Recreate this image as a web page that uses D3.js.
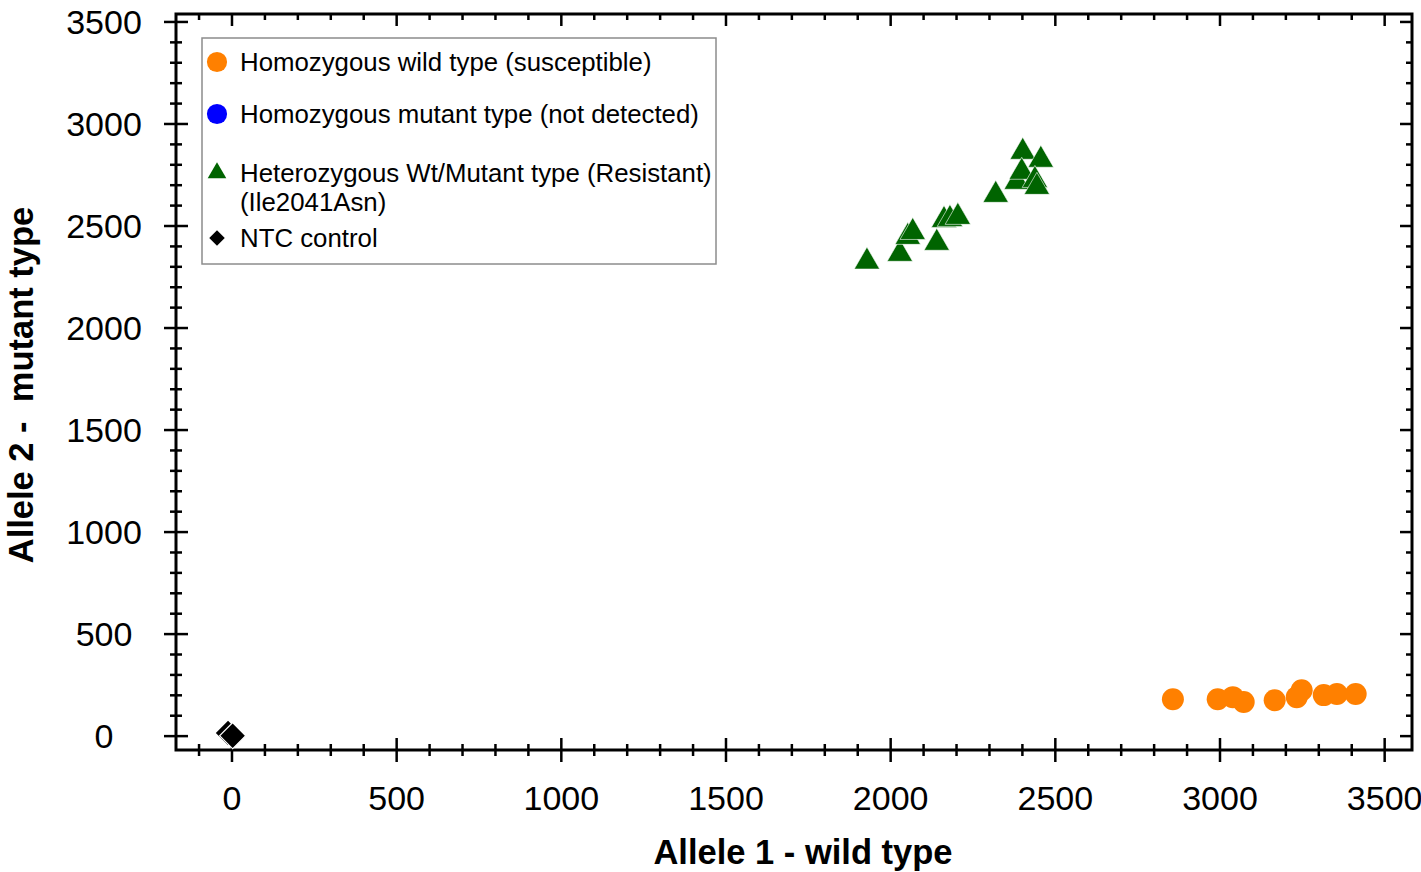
<!DOCTYPE html>
<html>
<head>
<meta charset="utf-8">
<script src="https://cdn.jsdelivr.net/npm/d3@7"></script>
<style>
  body { margin: 0; background: #fff; }
  svg text { font-family: "Liberation Sans", Arial, sans-serif; }
</style>
</head>
<body>
<svg id="chart" width="1421" height="872"></svg>
<script>
// allele fluorescence values
let wildX = [2857, 2993, 3039, 3072, 3166, 3233, 3248, 3315, 3355, 3412];
let wildY = [181, 181, 191, 167, 176, 191, 225, 201, 206, 206];

let hetX = [1928, 2028, 2052, 2067, 2140, 2162, 2180, 2204, 2319, 2401, 2456, 2383, 2398, 2438, 2444];
let hetY = [2325, 2363, 2446, 2470, 2417, 2529, 2534, 2544, 2652, 2863, 2824, 2716, 2765, 2725, 2691];

let ntcX = [-12, 2];
let ntcY = [15, 2];

let majorTicks = [0, 500, 1000, 1500, 2000, 2500, 3000, 3500];

let legendLabels = [
    ['Homozygous wild type (susceptible)'],
    ['Homozygous mutant type (not detected)'],
    ['Heterozygous Wt/Mutant type (Resistant)', '(Ile2041Asn)'],
    ['NTC control']
];

var pLeft = 176, pRight = 1412, pTop = 14, pBottom = 750;

var x = d3.scaleLinear().domain([-170, 3583]).range([pLeft, pRight]);
var y = d3.scaleLinear().domain([-68, 3539]).range([pBottom, pTop]);

var svg = d3.select('#chart');

var minorX = d3.range(-100, 3501, 100).filter(function(v) { return v % 500 !== 0; });
var minorY = d3.range(100, 3501, 100).filter(function(v) { return v % 500 !== 0; });

// ticks: bottom/left cross the frame, top/right point inward
function tickLines(g, vals, len, side) {
    g.selectAll(null)
        .data(vals)
        .enter()
        .append('line')
        .attr('stroke', '#000')
        .attr('stroke-width', 2.5)
        .each(function(v) {
            var l = d3.select(this);
            if (side === 'bottom') l.attr('x1', x(v)).attr('x2', x(v)).attr('y1', pBottom - len).attr('y2', pBottom + len);
            if (side === 'top') l.attr('x1', x(v)).attr('x2', x(v)).attr('y1', pTop).attr('y2', pTop + len);
            if (side === 'left') l.attr('y1', y(v)).attr('y2', y(v)).attr('x1', pLeft - len).attr('x2', pLeft + len);
            if (side === 'right') l.attr('y1', y(v)).attr('y2', y(v)).attr('x1', pRight).attr('x2', pRight - len);
        });
}

var axes = svg.append('g');
tickLines(axes, majorTicks, 12, 'bottom');
tickLines(axes, minorX, 6, 'bottom');
tickLines(axes, majorTicks, 12, 'top');
tickLines(axes, minorX, 6, 'top');
tickLines(axes, majorTicks, 12, 'left');
tickLines(axes, minorY, 6, 'left');
tickLines(axes, majorTicks, 12, 'right');
tickLines(axes, minorY, 6, 'right');

axes.append('rect')
    .attr('x', pLeft)
    .attr('y', pTop)
    .attr('width', pRight - pLeft)
    .attr('height', pBottom - pTop)
    .attr('fill', 'none')
    .attr('stroke', '#000')
    .attr('stroke-width', 3);

axes.selectAll('.xl')
    .data(majorTicks)
    .enter()
    .append('text')
    .attr('x', function(d) { return x(d); })
    .attr('y', 810)
    .attr('text-anchor', 'middle')
    .style('font-size', '34px')
    .text(function(d) { return d; });

// y labels are centred in the margin, not right-aligned
axes.selectAll('.yl')
    .data(majorTicks)
    .enter()
    .append('text')
    .attr('x', 104)
    .attr('y', function(d) { return y(d) + 12; })
    .attr('text-anchor', 'middle')
    .style('font-size', '34px')
    .text(function(d) { return d; });

svg.append('text')
    .attr('x', 803)
    .attr('y', 864)
    .attr('text-anchor', 'middle')
    .style('font-size', '34.5px')
    .style('font-weight', 'bold')
    .text('Allele 1 - wild type');

svg.append('text')
    .attr('transform', 'translate(33,385) rotate(-90)')
    .attr('text-anchor', 'middle')
    .style('font-size', '34.5px')
    .style('font-weight', 'bold')
    .style('white-space', 'pre')
    .text('Allele 2 -  mutant type');

var plot = svg.append('g');

var circle = d3.symbol().type(d3.symbolCircle).size(380);
var triangle = d3.symbol().type(d3.symbolTriangle).size(280);
var square = d3.symbol().type(d3.symbolSquare).size(340);

plot.selectAll('.ntc')
    .data(d3.zip(ntcX, ntcY))
    .enter()
    .append('path')
    .attr('d', square)
    .attr('transform', function(d) { return 'translate(' + x(d[0]) + ',' + y(d[1]) + ') rotate(45)'; })
    .attr('fill', '#000')
    .attr('stroke', '#fff')
    .attr('stroke-width', 1.2);

plot.selectAll('.wild')
    .data(d3.zip(wildX, wildY))
    .enter()
    .append('path')
    .attr('d', circle)
    .attr('transform', function(d) { return 'translate(' + x(d[0]) + ',' + y(d[1]) + ')'; })
    .attr('fill', '#ff8000');

plot.selectAll('.het')
    .data(d3.zip(hetX, hetY))
    .enter()
    .append('path')
    .attr('d', triangle)
    .attr('transform', function(d) { return 'translate(' + x(d[0]) + ',' + y(d[1]) + ')'; })
    .attr('fill', '#006400')
    .attr('stroke', '#fff')
    .attr('stroke-width', 0.6);

// legend
var legend = svg.append('g');
legend.append('rect')
    .attr('x', 202)
    .attr('y', 38)
    .attr('width', 514)
    .attr('height', 226)
    .attr('fill', '#fff')
    .attr('stroke', '#8c8c8c')
    .attr('stroke-width', 1.5);

var legendY = [62, 114, 173, 238];
var legendSym = [
    d3.symbol().type(d3.symbolCircle).size(320)(),
    d3.symbol().type(d3.symbolCircle).size(320)(),
    d3.symbol().type(d3.symbolTriangle).size(150)(),
    d3.symbol().type(d3.symbolSquare).size(120)()
];
var legendFill = ['#ff8000', '#0000ff', '#006400', '#000'];

legendLabels.forEach(function(lines, i) {
    legend.append('path')
        .attr('d', legendSym[i])
        .attr('transform', 'translate(217,' + legendY[i] + ')' + (i === 3 ? ' rotate(45)' : ''))
        .attr('fill', legendFill[i]);
    lines.forEach(function(t, j) {
        legend.append('text')
            .attr('x', 240)
            .attr('y', legendY[i] + 9 + j * 29)
            .style('font-size', '25.8px')
            .text(t);
    });
});
</script>
</body>
</html>
